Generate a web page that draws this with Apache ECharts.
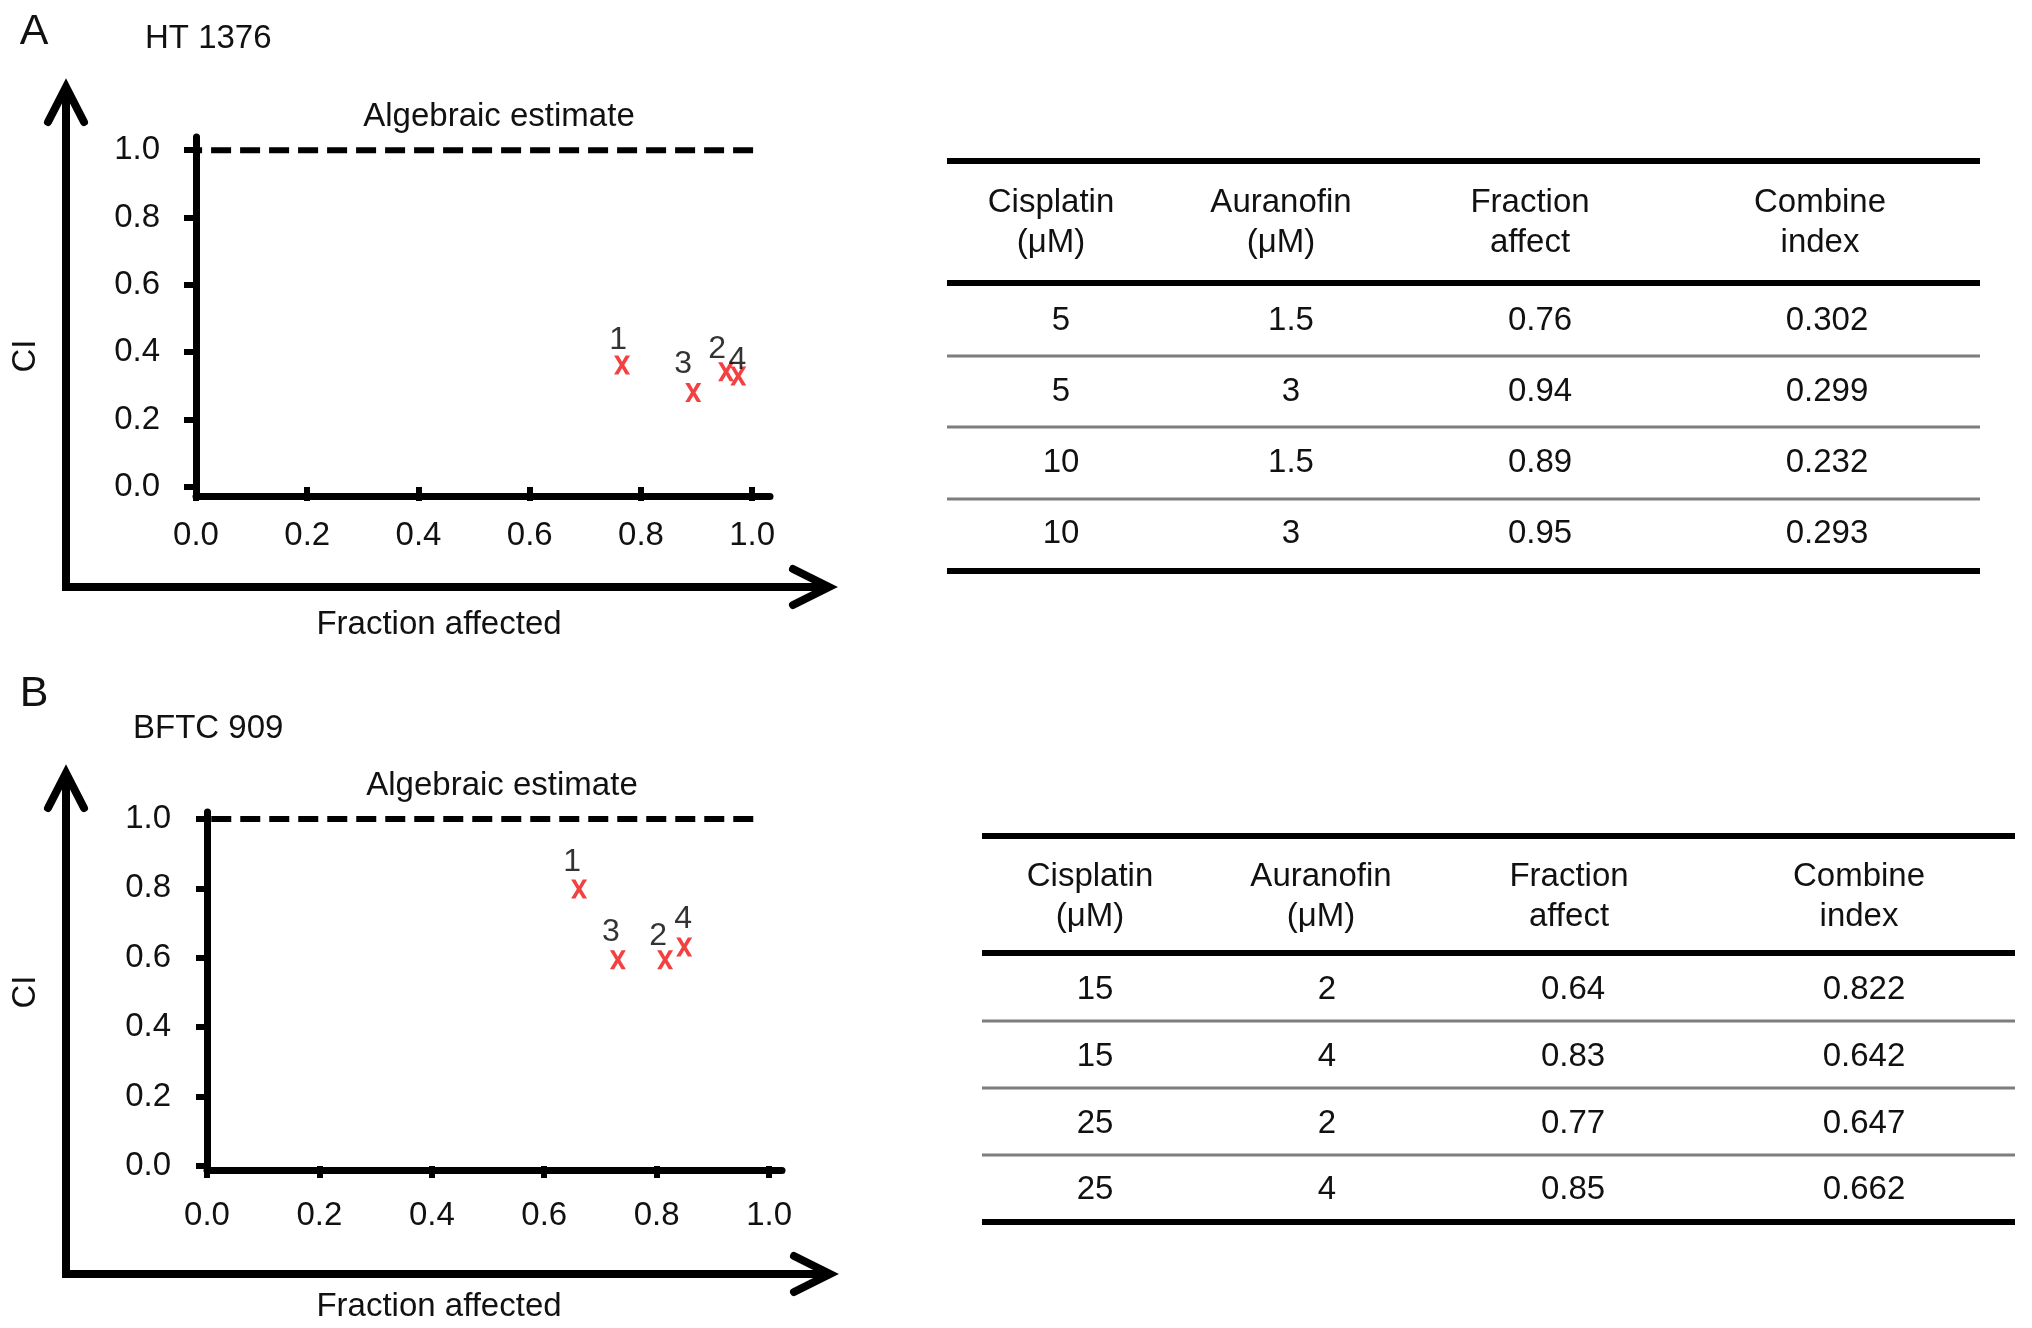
<!DOCTYPE html>
<html>
<head>
<meta charset="utf-8">
<script src="https://cdn.jsdelivr.net/npm/echarts@6/dist/echarts.min.js"></script>
<style>
html,body{margin:0;padding:0;background:#fff;}
#chart{width:2032px;height:1328px;}
</style>
</head>
<body>
<div id="chart"></div>
<script>
// ---------------- DATA ----------------
const pointLabels = ['1', '2', '3', '4'];
const tickValues = [0, 0.2, 0.4, 0.6, 0.8, 1.0];
const ciReference = 1.0;

// Panel A (HT 1376) plotted points
const fractionA = [0.766, 0.953, 0.894, 0.975];
const ciA = [0.362, 0.342, 0.280, 0.329];
// Panel B (BFTC 909) plotted points
const fractionB = [0.662, 0.815, 0.731, 0.849];
const ciB = [0.798, 0.594, 0.594, 0.631];

// Tables
const tableHeaders = [['Cisplatin', '(\u03bcM)'], ['Auranofin', '(\u03bcM)'], ['Fraction', 'affect'], ['Combine', 'index']];
const cisplatinA = ['5', '5', '10', '10'];
const auranofinA = ['1.5', '3', '1.5', '3'];
const fractionAffectA = ['0.76', '0.94', '0.89', '0.95'];
const combineIndexA = ['0.302', '0.299', '0.232', '0.293'];
const cisplatinB = ['15', '15', '25', '25'];
const auranofinB = ['2', '4', '2', '4'];
const fractionAffectB = ['0.64', '0.83', '0.77', '0.85'];
const combineIndexB = ['0.822', '0.642', '0.647', '0.662'];

const panelLetters = ['A', 'B'];
const cellLines = ['HT 1376', 'BFTC 909'];
const refTitle = 'Algebraic estimate';
const xTitle = 'Fraction affected';
const yTitle = 'CI';

// ---------------- LAYOUT / STYLE ----------------
const FONT = '"Liberation Sans", Arial, Helvetica, sans-serif';
const TXT = '#111111';
const RED = '#f01010';
const X_PATH = 'path://M0,0 L27,0 L50,40 L73,0 L100,0 L64,60 L100,120 L73,120 L50,80 L27,120 L0,120 L36,60 Z';

const panels = [
  {
    fx: fractionA, ci: ciA,
    grid: {left: 196, top: 137, width: 574, height: 359},
    xRange: [0, 1.032], yRange: [-0.027, 1.039],
    yTick: {offset: 19, length: 12, margin: 17},
    xTick: {offset: 0, length: 14, margin: 23},
    refX: [-0.025, 1.011],
    labelOffsets: [[-4, -25], [-9, -23], [-10, -28], [-1, -16]],
    arrow: {x: 66, top: 87, bottom: 587, right: 829},
    letter: [34, 32], cell: [145, 39], refT: [499, 117], yT: [26, 356], xT: [439, 625]
  },
  {
    fx: fractionB, ci: ciB,
    grid: {left: 207, top: 812, width: 575, height: 358},
    xRange: [0, 1.023], yRange: [-0.0115, 1.020],
    yTick: {offset: 15, length: 11, margin: 21},
    xTick: {offset: 6, length: 12, margin: 23},
    refX: [-0.044, 0.980],
    labelOffsets: [[-7, -27], [-7, -24], [-7, -28], [-1, -28]],
    arrow: {x: 66, top: 773, bottom: 1274, right: 830},
    letter: [34, 694], cell: [133, 729], refT: [502, 786], yT: [26, 992], xT: [439, 1307]
  }
];

const tables = [
  {
    cols: [cisplatinA, auranofinA, fractionAffectA, combineIndexA],
    x0: 947, x1: 1980,
    headX: [1051, 1281, 1530, 1820], valX: [1061, 1291, 1540, 1827],
    headY: [203, 243], rowY: [321, 392, 463, 534],
    thickY: [161, 283, 571], thinY: [356, 427, 499]
  },
  {
    cols: [cisplatinB, auranofinB, fractionAffectB, combineIndexB],
    x0: 982, x1: 2015,
    headX: [1090, 1321, 1569, 1859], valX: [1095, 1327, 1573, 1864],
    headY: [877, 917], rowY: [990, 1057, 1124, 1190],
    thickY: [836, 953, 1222], thinY: [1021, 1088, 1155]
  }
];

// ---------------- BUILD ----------------
const grids = [], xAxes = [], yAxes = [], series = [], graphics = [];
const fmt = v => Number(v).toFixed(1);
const AXW = 7;
const SYM_H = 19, LABEL_FS = 32;

panels.forEach((p, i) => {
  grids.push(Object.assign({containLabel: false}, p.grid));
  const base = xAxes.length;
  xAxes.push({
    gridIndex: i, type: 'value', min: p.xRange[0], max: p.xRange[1], position: 'bottom',
    axisLine: {show: true, onZero: false, lineStyle: {color: '#000', width: AXW}},
    axisTick: {show: false}, axisLabel: {show: false}, splitLine: {show: false}
  });
  xAxes.push({
    gridIndex: i, type: 'value', min: p.xRange[0], max: p.xRange[1], position: 'bottom', offset: p.xTick.offset,
    axisLine: {show: false},
    axisTick: {show: true, customValues: tickValues, length: p.xTick.length, lineStyle: {color: '#000', width: 6}},
    axisLabel: {show: true, customValues: tickValues, formatter: fmt, margin: p.xTick.margin,
      fontSize: 33, color: TXT, fontFamily: FONT},
    splitLine: {show: false}
  });
  yAxes.push({
    gridIndex: i, type: 'value', min: p.yRange[0], max: p.yRange[1], position: 'left',
    axisLine: {show: true, onZero: false, lineStyle: {color: '#000', width: AXW}},
    axisTick: {show: false}, axisLabel: {show: false}, splitLine: {show: false}
  });
  yAxes.push({
    gridIndex: i, type: 'value', min: p.yRange[0], max: p.yRange[1], position: 'left', offset: p.yTick.offset,
    axisLine: {show: false},
    axisTick: {show: true, customValues: tickValues, length: p.yTick.length, lineStyle: {color: '#000', width: 6}},
    axisLabel: {show: true, customValues: tickValues, formatter: fmt, margin: p.yTick.margin,
      fontSize: 33, color: TXT, fontFamily: FONT},
    splitLine: {show: false}
  });
  series.push({
    type: 'line', xAxisIndex: base, yAxisIndex: base, clip: false, silent: true,
    symbol: 'none', z: 2,
    lineStyle: {color: '#000', width: 6, type: [20, 9]},
    data: [[p.refX[0], ciReference], [p.refX[1], ciReference]]
  });
  // label anchor 'top' (distance 0): text centre sits SYM_H/2 + LABEL_FS/2 above the point
  const baseDy = SYM_H / 2 + LABEL_FS / 2;
  series.push({
    type: 'scatter', xAxisIndex: base, yAxisIndex: base, clip: false, z: 5,
    symbol: X_PATH, symbolSize: [16, SYM_H],
    itemStyle: {color: RED},
    label: {show: true, position: 'top', distance: 0, fontSize: LABEL_FS, color: '#000', fontFamily: FONT,
      lineHeight: LABEL_FS, textBorderWidth: 0,
      formatter: prm => pointLabels[prm.dataIndex]},
    data: p.fx.map((x, k) => ({value: [x, p.ci[k]],
      label: {offset: [p.labelOffsets[k][0], p.labelOffsets[k][1] + baseDy]}}))
  });

  const a = p.arrow;
  const ls = {stroke: '#000', lineWidth: 8, fill: null, lineJoin: 'miter', lineCap: 'butt'};
  graphics.push({type: 'polyline', shape: {points: [[a.x, a.top + 4], [a.x, a.bottom], [a.right - 4, a.bottom]]}, style: ls, silent: true});
  graphics.push({type: 'polyline', shape: {points: [[a.x - 18, a.top + 35], [a.x, a.top], [a.x + 18, a.top + 35]]}, style: Object.assign({}, ls, {lineCap: 'round'}), silent: true});
  graphics.push({type: 'polyline', shape: {points: [[a.right - 36, a.bottom - 18], [a.right, a.bottom], [a.right - 36, a.bottom + 18]]}, style: Object.assign({}, ls, {lineCap: 'round'}), silent: true});

  const t = (txt, x, y, size, align, extra) => graphics.push(Object.assign({
    type: 'text', x: x, y: y, silent: true,
    style: {text: txt, fontSize: size, fontFamily: FONT, fill: TXT, align: align || 'center', verticalAlign: 'middle'}
  }, extra || {}));
  t(panelLetters[i], p.letter[0], p.letter[1], 43);
  t(cellLines[i], p.cell[0], p.cell[1], 33, 'left');
  t(refTitle, p.refT[0], p.refT[1], 33);
  t(xTitle, p.xT[0], p.xT[1], 33);
  t(yTitle, p.yT[0], p.yT[1], 33, 'center', {rotation: Math.PI / 2});
});

tables.forEach(tb => {
  tb.thickY.forEach(y => graphics.push({type: 'line', silent: true,
    shape: {x1: tb.x0, y1: y, x2: tb.x1, y2: y}, style: {stroke: '#000', lineWidth: 6}}));
  tb.thinY.forEach(y => graphics.push({type: 'line', silent: true,
    shape: {x1: tb.x0, y1: y, x2: tb.x1, y2: y}, style: {stroke: '#7d7d7d', lineWidth: 3}}));
  tableHeaders.forEach((h, c) => h.forEach((line, r) => graphics.push({
    type: 'text', x: tb.headX[c], y: tb.headY[r], silent: true,
    style: {text: line, fontSize: 33, fontFamily: FONT, fill: TXT, align: 'center', verticalAlign: 'middle'}
  })));
  tb.cols.forEach((col, c) => col.forEach((v, r) => graphics.push({
    type: 'text', x: tb.valX[c], y: tb.rowY[r], silent: true,
    style: {text: v, fontSize: 33, fontFamily: FONT, fill: TXT, align: 'center', verticalAlign: 'middle'}
  })));
});

const chart = echarts.init(document.getElementById('chart'), null, {renderer: 'canvas'});
chart.setOption({
  backgroundColor: '#ffffff',
  animation: false,
  grid: grids,
  xAxis: xAxes,
  yAxis: yAxes,
  series: series,
  graphic: {elements: graphics}
});
</script>
</body>
</html>
